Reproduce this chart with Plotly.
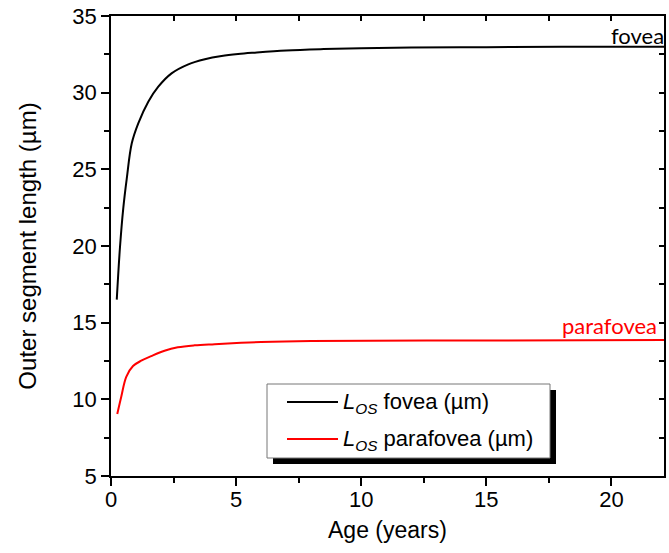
import plotly.graph_objects as go

# Возраст (годы) и длина наружного сегмента (мкм)
age_fovea = [0.23, 0.36, 0.49, 0.63, 0.83, 1.09, 1.49, 1.89, 2.42, 3.09, 3.75, 4.42, 5.08, 5.75,
             7.0, 8.5, 10.0, 12.0, 15.0, 18.0, 22.1]
los_fovea = [16.5, 19.95, 22.46, 24.4, 26.7, 28.0, 29.41, 30.39, 31.26, 31.85, 32.18, 32.39, 32.52, 32.61,
             32.75, 32.84, 32.9, 32.94, 32.97, 32.99, 33.0]

age_para = [0.25, 0.41, 0.61, 0.88, 1.21, 1.61, 2.14, 2.67, 3.34, 4.14, 5.2, 6.0, 8.0, 15.5, 22.1]
los_para = [9.04, 10.17, 11.47, 12.17, 12.52, 12.82, 13.17, 13.39, 13.52, 13.6, 13.69, 13.74, 13.8, 13.84, 13.87]

x_ticks = [0, 5, 10, 15, 20]
y_ticks = [5, 10, 15, 20, 25, 30, 35]

names = ['<i>L</i><sub><i>OS</i></sub> fovea (µm)', '<i>L</i><sub><i>OS</i></sub> parafovea (µm)']
colors = ['black', '#ff0000']

ARIAL = "Liberation Sans, Arial, sans-serif"
CALIBRI = "Lato, Open Sans, sans-serif"

W, H = 669, 553
L, R, T, B = 111, 5, 16, 77


# пиксели -> доли области графика (для легенды и подписи оси x)
def px(x):
    return (x - L) / (W - L - R)


def py(y):
    return (H - B - y) / (H - B - T)


fig = go.Figure()
fig.add_trace(go.Scatter(x=age_fovea, y=los_fovea, mode='lines', line=dict(color=colors[0], width=2, shape='spline'),
                         name=names[0]))
fig.add_trace(go.Scatter(x=age_para, y=los_para, mode='lines', line=dict(color=colors[1], width=2, shape='spline'),
                         name=names[1]))
# пустой дубль, чтобы верхняя/правая оси отрисовались
fig.add_trace(go.Scatter(x=age_fovea, y=los_fovea, xaxis='x2', yaxis='y2', mode='lines',
                         line=dict(width=0), opacity=0, showlegend=False, hoverinfo='skip'))

axis_common = dict(showgrid=False, zeroline=False, linecolor='black', linewidth=1.5, automargin=False,
                   tickcolor='black', tickwidth=1.5, tickfont=dict(family=ARIAL, size=22, color='black'))

fig.update_layout(
    width=W, height=H,
    margin=dict(l=L, r=R, t=T, b=B, autoexpand=False),
    plot_bgcolor='white', paper_bgcolor='white',
    font=dict(family=ARIAL, size=22, color='black'),
    showlegend=False,
    xaxis=dict(range=[0, 22.1], tickvals=x_ticks, ticks='outside', ticklen=8, ticklabelstandoff=-5,
               minor=dict(dtick=2.5, tick0=0, ticks='outside', ticklen=5, tickcolor='black', tickwidth=1.5),
               **axis_common),
    yaxis=dict(range=[5, 35], tickvals=y_ticks, ticks='outside', ticklen=8,
               minor=dict(dtick=2.5, tick0=5, ticks='outside', ticklen=5, tickcolor='black', tickwidth=1.5),
               title=dict(text='Outer segment length (µm)', font=dict(family=ARIAL, size=24), standoff=29),
               **axis_common),
    xaxis2=dict(overlaying='x', matches='x', side='top', anchor='y', showticklabels=False,
                tickvals=x_ticks, ticks='inside', ticklen=5,
                minor=dict(dtick=2.5, tick0=0, ticks='inside', ticklen=5, tickcolor='black', tickwidth=1.5),
                showline=True, **axis_common),
    yaxis2=dict(overlaying='y', matches='y', side='right', anchor='x', showticklabels=False,
                tickvals=y_ticks, ticks='inside', ticklen=5,
                minor=dict(dtick=2.5, tick0=5, ticks='inside', ticklen=5, tickcolor='black', tickwidth=1.5),
                showline=True, **axis_common),
)

# подпись оси x (standoff упирается в поле, поэтому аннотацией)
fig.add_annotation(x=0.5, y=py(530), xref='paper', yref='paper', text='Age (years)', showarrow=False,
                   xanchor='center', yanchor='middle', font=dict(family=ARIAL, size=23, color='black'))

# легенда вручную: тень, рамка, образцы линий, подписи
fig.add_shape(type='rect', xref='paper', yref='paper', x0=px(273), x1=px(556), y0=py(464), y1=py(390),
              fillcolor='black', line=dict(width=0), layer='above')
fig.add_shape(type='rect', xref='paper', yref='paper', x0=px(267), x1=px(550), y0=py(458), y1=py(384),
              fillcolor='white', line=dict(color='#777777', width=1), layer='above')
for ly, name, col in zip([402, 439], names, colors):
    fig.add_shape(type='line', xref='paper', yref='paper', x0=px(287), x1=px(338), y0=py(ly), y1=py(ly),
                  line=dict(color=col, width=2), layer='above')
    fig.add_annotation(x=px(341), y=py(ly + 1), xref='paper', yref='paper', text=name, showarrow=False,
                       xanchor='left', yanchor='middle', font=dict(family=ARIAL, size=22, color='black'))

fig.add_annotation(x=px(666), y=33.76, xref='paper', yref='y', text='fovea', showarrow=False,
                   xanchor='right', yanchor='middle', font=dict(family=CALIBRI, size=22, color='black'))
fig.add_annotation(x=px(659), y=14.84, xref='paper', yref='y', text='parafovea', showarrow=False,
                   xanchor='right', yanchor='middle', font=dict(family=CALIBRI, size=22, color='#ff0000'))

# убираем отступ body, чтобы график стоял в углу окна
fig.write_html("out.html", config={'displayModeBar': False},
               post_script="document.body.style.margin='0';")
